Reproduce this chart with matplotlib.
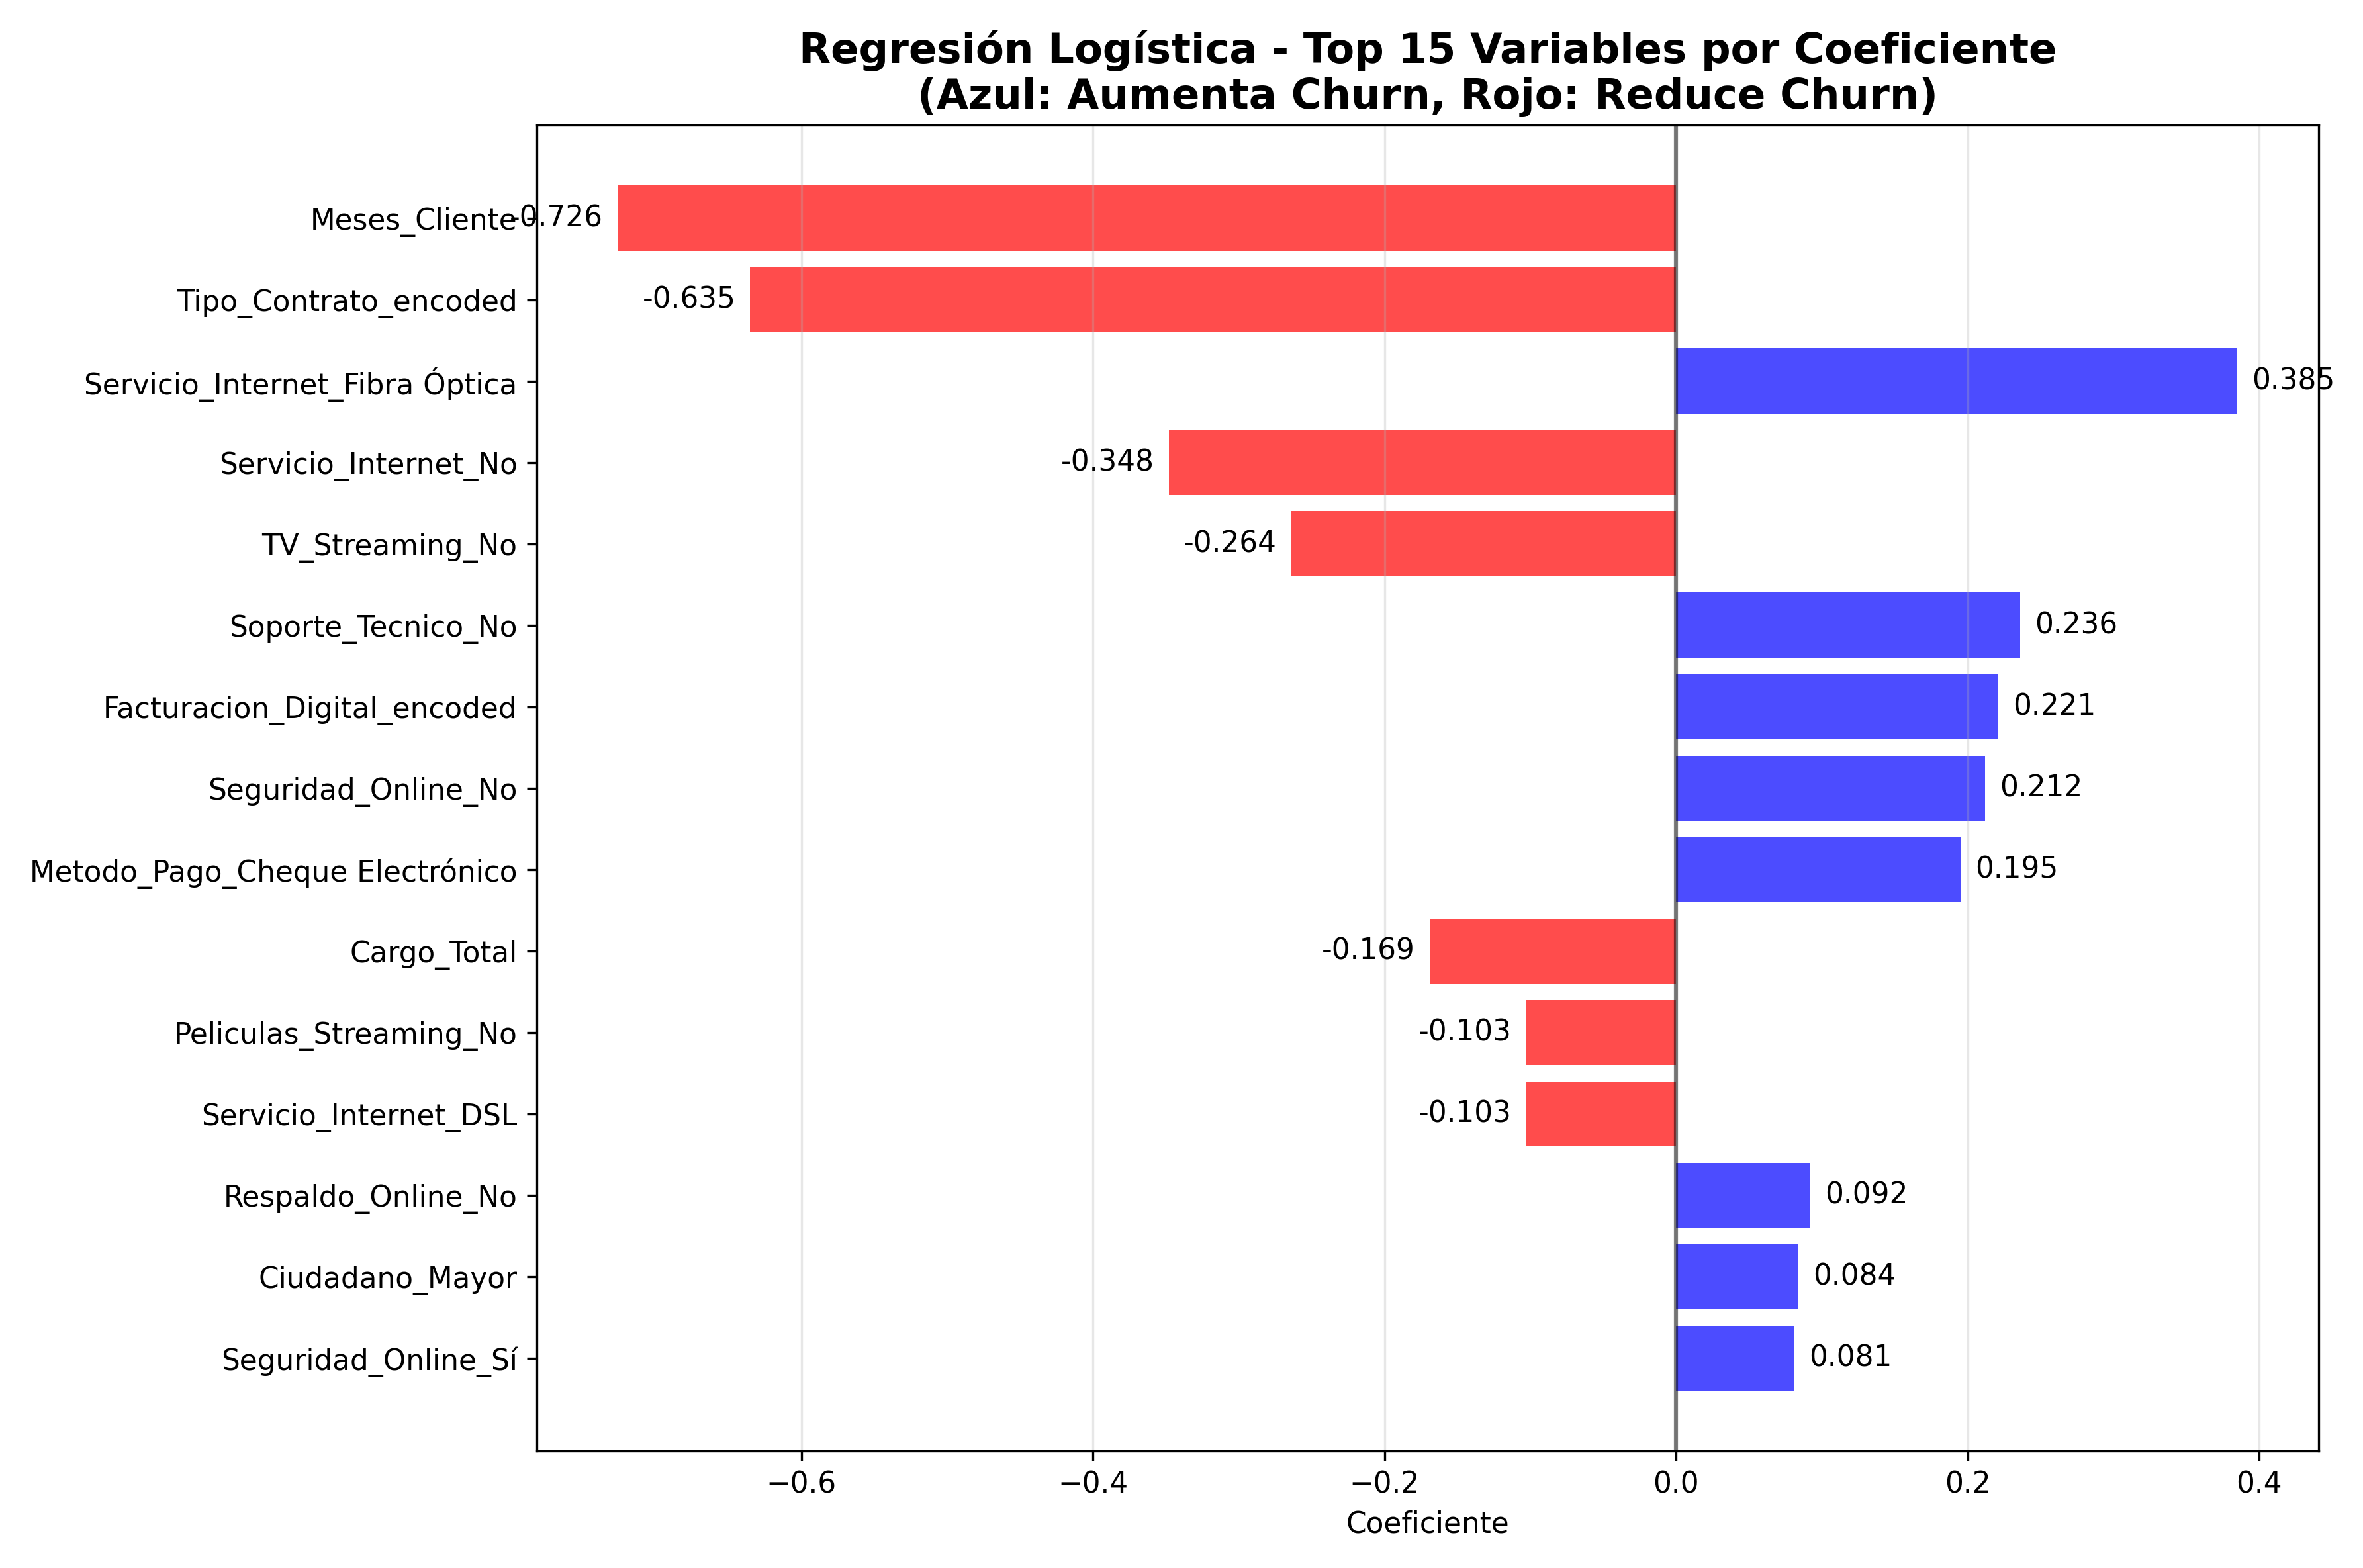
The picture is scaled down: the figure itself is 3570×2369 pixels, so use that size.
import matplotlib
matplotlib.use('Agg')
import matplotlib.pyplot as plt
import numpy as np

variables = [
    'Meses_Cliente', 'Tipo_Contrato_encoded', 'Servicio_Internet_Fibra Óptica',
    'Servicio_Internet_No', 'TV_Streaming_No', 'Soporte_Tecnico_No',
    'Facturacion_Digital_encoded', 'Seguridad_Online_No',
    'Metodo_Pago_Cheque Electrónico', 'Cargo_Total', 'Peliculas_Streaming_No',
    'Servicio_Internet_DSL', 'Respaldo_Online_No', 'Ciudadano_Mayor',
    'Seguridad_Online_Sí',
]
coeficientes = [-0.726, -0.635, 0.385, -0.348, -0.264, 0.236, 0.221, 0.212,
                0.195, -0.169, -0.103, -0.103, 0.092, 0.084, 0.081]

fig, ax = plt.subplots(figsize=(11.9, 7.897), dpi=300)

y = np.arange(len(variables))
colores = ['blue' if c > 0 else 'red' for c in coeficientes]
ax.barh(y, coeficientes, color=colores, alpha=0.7)
ax.set_yticks(y)
ax.set_yticklabels(variables)
ax.invert_yaxis()

for i, c in enumerate(coeficientes):
    if c > 0:
        ax.text(c + 0.01, i, f'{c:.3f}', va='center', ha='left', fontsize=10.5)
    else:
        ax.text(c - 0.01, i, f'{c:.3f}', va='center', ha='right', fontsize=10.5)

ax.axvline(0, color='black', alpha=0.5, linewidth=1.5)
ax.set_xlabel('Coeficiente', fontsize=10.5)
ax.set_title('Regresión Logística - Top 15 Variables por Coeficiente\n'
             '(Azul: Aumenta Churn, Rojo: Reduce Churn)',
             fontsize=15, fontweight='bold')
ax.grid(axis='x', alpha=0.3)
ax.tick_params(labelsize=10.5)

plt.tight_layout()
plt.savefig('out.png', dpi=300, facecolor='white')
